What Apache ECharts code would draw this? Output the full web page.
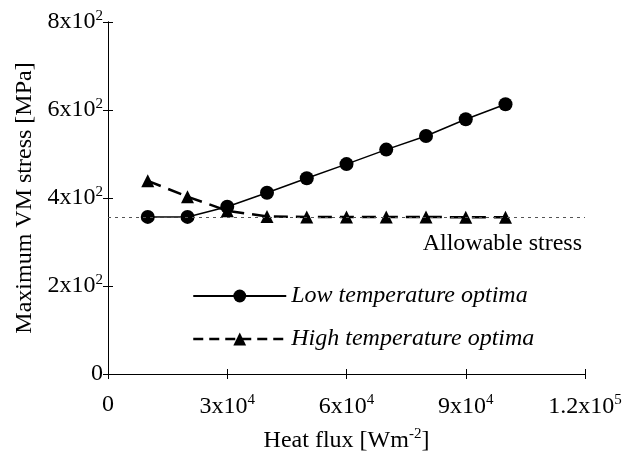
<!DOCTYPE html>
<html><head><meta charset="utf-8">
<script src="https://cdn.jsdelivr.net/npm/echarts@6/dist/echarts.min.js"></script>
<style>html,body{margin:0;padding:0;background:#fff}#c{width:625px;height:459px}</style>
</head><body><div id="c"></div>
<script>
const heatFlux = [10000, 20000, 30000, 40000, 50000, 60000, 70000, 80000, 90000, 100000];
const lowTemp = [357, 357, 380, 412, 445, 477, 510, 541, 579, 613];
const highTemp = [439, 403, 371, 358, 357, 357, 357, 357, 356, 356];
const allowableStress = 356;
const xTickValues = [0, 30000, 60000, 90000, 120000];
const xTickBase = ['0', '3x10', '6x10', '9x10', '1.2x10'];
const xTickExp = ['', '4', '4', '4', '5'];
const yTickValues = [0, 200, 400, 600, 800];
const yTickBase = ['0', '2x10', '4x10', '6x10', '8x10'];
const yTickExp = ['', '2', '2', '2', '2'];

const FONT = '"Liberation Serif", "Times New Roman", serif';
const chart = echarts.init(document.getElementById('c'));
function fmt(vals, base, exp) {
  return function (v) {
    const i = vals.indexOf(v);
    if (i < 0) return '';
    return exp[i] ? '{b|' + base[i] + '}{s|' + exp[i] + '}' : '{b|' + base[i] + '}';
  };
}
const rich = {
  b: {fontFamily: FONT, fontSize: 24, color: '#000'},
  s: {fontFamily: FONT, fontSize: 15, color: '#000', padding: [0, 0, 12, 0]}
};
const axisCommon = {
  axisLine: {show: true, lineStyle: {color: '#000', width: 1}},
  axisTick: {show: true, inside: true, length: 5, lineStyle: {color: '#000'}},
  splitLine: {show: false}
};
chart.setOption({
  animation: false,
  backgroundColor: '#fff',
  grid: {left: 108, top: 22, right: 40, bottom: 85},
  legend: {
    orient: 'vertical', left: 187, top: 279, itemGap: 19,
    itemWidth: 93, itemHeight: 16,
    textStyle: {fontFamily: FONT, fontSize: 24, fontStyle: 'italic', color: '#000'},
    data: [
      {name: 'Low temperature optima'},
      {name: 'High temperature optima', itemStyle: {color: '#000'}, lineStyle: {type: [10, 6], width: 2.5, color: '#000'}}
    ]
  },
  xAxis: [
    Object.assign({
      type: 'value', min: 0, max: 120000, interval: 30000, position: 'bottom',
      name: '{b|Heat flux [Wm}{s|-2}{b|]}', nameLocation: 'middle', nameGap: 53,
      nameTextStyle: {rich: rich},
      axisLabel: {margin: 19, formatter: fmt(xTickValues, xTickBase, xTickExp), rich: rich}
    }, axisCommon),
    Object.assign({
      type: 'value', min: 0, max: 120000, interval: 30000, position: 'top',
      axisLabel: {show: false}
    }, axisCommon)
  ],
  yAxis: [
    Object.assign({
      type: 'value', min: 0, max: 800, interval: 200, position: 'left',
      name: 'Maximum VM stress [MPa]', nameLocation: 'middle', nameGap: 70,
      nameTextStyle: {fontFamily: FONT, fontSize: 24, color: '#000'},
      axisLabel: {margin: 5, formatter: fmt(yTickValues, yTickBase, yTickExp), rich: rich}
    }, axisCommon),
    Object.assign({
      type: 'value', min: 0, max: 800, interval: 200, position: 'right',
      axisLabel: {show: false}
    }, axisCommon)
  ],
  series: [
    {
      name: 'Low temperature optima', type: 'line',
      data: heatFlux.map((x, i) => [x, lowTemp[i]]),
      symbol: 'circle', symbolSize: 14,
      itemStyle: {color: '#000'},
      lineStyle: {color: '#000', width: 1.5, type: 'solid'},
      z: 3,
      markLine: {
        silent: true, symbol: 'none',
        lineStyle: {color: '#555', width: 1, type: [3, 4]},
        label: {
          show: true, position: 'insideEndBottom', distance: [3, 14],
          formatter: 'Allowable stress',
          fontFamily: FONT, fontSize: 24, color: '#000'
        },
        data: [{yAxis: allowableStress}]
      }
    },
    {
      name: 'High temperature optima', type: 'line',
      data: heatFlux.map((x, i) => [x, highTemp[i]]),
      symbol: 'triangle', symbolSize: 13,
      itemStyle: {color: '#000'},
      lineStyle: {color: '#000', width: 2.5, type: [14, 8]},
      z: 2
    }
  ]
});
</script></body></html>
